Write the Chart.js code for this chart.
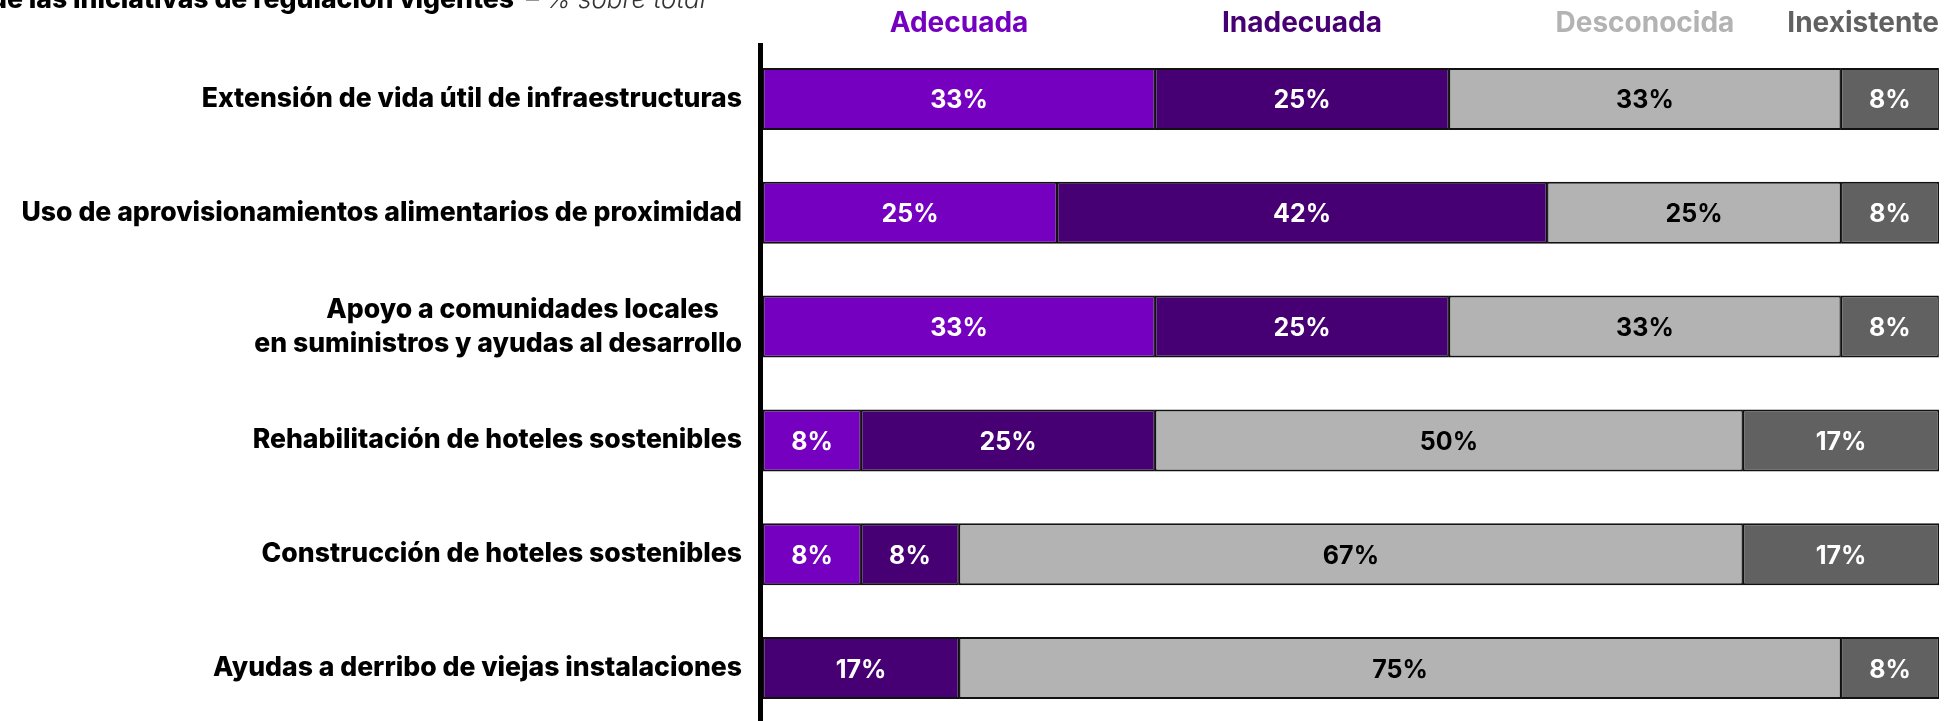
<!DOCTYPE html>
<html lang="es">
<head>
<meta charset="utf-8">
<title>Valoración de las iniciativas de regulación vigentes</title>
<script src="https://cdn.jsdelivr.net/npm/chart.js@4.4.1/dist/chart.umd.min.js"></script>
<style>
  html, body { margin: 0; padding: 0; background: #ffffff; overflow: hidden; }
  canvas { display: block; }
</style>
</head>
<body>
<canvas id="chart" width="1944" height="725"></canvas>
<script>
// Initiatives (one horizontal bar each)
const categories = [
  'Extensión de vida útil de infraestructuras',
  'Uso de aprovisionamientos alimentarios de proximidad',
  ['Apoyo a comunidades locales    ', 'en suministros y ayudas al desarrollo'],
  'Rehabilitación de hoteles sostenibles',
  'Construcción de hoteles sostenibles',
  'Ayudas a derribo de viejas instalaciones'
];

// Share of answers per assessment, % of total
const adecuada    = [33.33, 25.00, 33.33,  8.33,  8.33,  0.00];
const inadecuada  = [25.00, 41.67, 25.00, 25.00,  8.33, 16.67];
const desconocida = [33.33, 25.00, 33.33, 50.00, 66.67, 75.00];
const inexistente = [ 8.33,  8.33,  8.33, 16.67, 16.67,  8.33];

const seriesNames = ['Adecuada', 'Inadecuada', 'Desconocida', 'Inexistente'];
const seriesValues = [adecuada, inadecuada, desconocida, inexistente];
const seriesColors = ['#7500C0', '#460073', '#B3B3B3', '#616161'];
const valueTextColors = ['#FFFFFF', '#FFFFFF', '#000000', '#FFFFFF'];

const headlineBold = 'de las iniciativas de regulación vigentes';
const headlineNote = '– % sobre total';

const FONT = 'Inter, "Noto Sans", "DejaVu Sans", sans-serif';

// Percentage written in the middle of every non-empty segment
const valueLabels = {
  id: 'valueLabels',
  afterDatasetsDraw(chart) {
    const ctx = chart.ctx;
    ctx.save();
    ctx.font = '700 25px ' + FONT;
    ctx.textAlign = 'center';
    ctx.textBaseline = 'middle';
    chart.data.datasets.forEach((ds, i) => {
      const meta = chart.getDatasetMeta(i);
      meta.data.forEach((bar, j) => {
        const v = ds.data[j];
        if (!v) return;
        const p = bar.getProps(['x', 'base', 'y'], true);
        ctx.fillStyle = valueTextColors[i];
        ctx.fillText(Math.round(v) + '%', (p.x + p.base) / 2, p.y + 2);
      });
    });
    ctx.restore();
  }
};

// Heavy vertical axis line at the start of the bars
const axisLine = {
  id: 'axisLine',
  afterDatasetsDraw(chart) {
    const { ctx, chartArea: a } = chart;
    ctx.save();
    ctx.fillStyle = '#000000';
    ctx.fillRect(a.left - 5, a.top + 1, 5, a.bottom - a.top);
    ctx.restore();
  }
};

// Series names above the first bar, centred on its segments
const topLegend = {
  id: 'topLegend',
  afterDraw(chart) {
    const { ctx, chartArea: a } = chart;
    ctx.save();
    ctx.font = '700 28px ' + FONT;
    ctx.textAlign = 'left';
    ctx.textBaseline = 'alphabetic';
    chart.data.datasets.forEach((ds, i) => {
      const bar = chart.getDatasetMeta(i).data[0];
      const p = bar.getProps(['x', 'base'], true);
      const w = ctx.measureText(ds.label).width;
      let left = (p.x + p.base) / 2 - w / 2;
      if (left + w > a.right) left = a.right - w;
      ctx.fillStyle = seriesColors[i];
      ctx.fillText(ds.label, left, 32);
    });
    ctx.restore();
  }
};

// Headline line at the very top
const headline = {
  id: 'headline',
  afterDraw(chart) {
    const ctx = chart.ctx;
    ctx.save();
    ctx.textBaseline = 'alphabetic';
    ctx.font = '800 26.6px ' + FONT;
    ctx.fillStyle = '#000000';
    ctx.textAlign = 'right';
    ctx.fillText(headlineBold, 514, 8);
    ctx.font = 'italic 300 26px ' + FONT;
    ctx.fillStyle = '#333333';
    ctx.textAlign = 'left';
    ctx.fillText(headlineNote, 526, 8);
    ctx.restore();
  }
};

new Chart(document.getElementById('chart'), {
  type: 'bar',
  data: {
    labels: categories,
    datasets: seriesNames.map((name, i) => ({
      label: name,
      data: seriesValues[i],
      backgroundColor: seriesColors[i],
      borderColor: '#111111',
      borderWidth: { top: 2, bottom: 2, left: 1.5, right: 1.5 },
      borderSkipped: false,
      categoryPercentage: 1,
      barPercentage: 0.545
    }))
  },
  options: {
    indexAxis: 'y',
    responsive: false,
    animation: false,
    devicePixelRatio: 1,
    layout: { padding: { left: 0, top: 42, right: 5, bottom: 0 } },
    scales: {
      x: {
        stacked: true,
        min: 0,
        max: 100,
        display: false
      },
      y: {
        stacked: true,
        grid: { display: false, drawTicks: false },
        border: { display: false },
        ticks: {
          autoSkip: false,
          padding: 21,
          color: '#000000',
          font: { family: FONT, size: 26.6, weight: '800', lineHeight: 1.28 }
        },
        afterFit(scale) {
          scale.width = 763;
          scale.paddingTop = 0;
          scale.paddingBottom = 0;
        }
      }
    },
    plugins: {
      legend: { display: false },
      title: { display: false },
      tooltip: { enabled: false }
    }
  },
  plugins: [valueLabels, axisLine, topLegend, headline]
});
</script>
</body>
</html>
